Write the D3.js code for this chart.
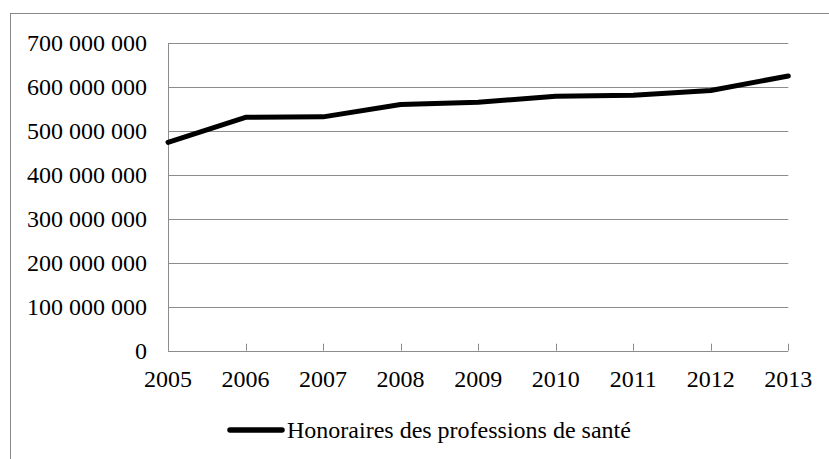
<!DOCTYPE html>
<html>
<head>
<meta charset="utf-8">
<script src="https://cdn.jsdelivr.net/npm/d3@7"></script>
<style>
  html, body { margin: 0; padding: 0; background: #fff; }
  text { font-family: "Liberation Serif", "Times New Roman", serif; fill: #000; }
</style>
</head>
<body>
<div id="chart"></div>
<script>
const years = [2005, 2006, 2007, 2008, 2009, 2010, 2011, 2012, 2013];
const values = [474e6, 531e6, 532e6, 560e6, 565e6, 579e6, 581e6, 592e6, 625e6];
const yTicks = [0, 100e6, 200e6, 300e6, 400e6, 500e6, 600e6, 700e6];
const seriesName = "Honoraires des professions de santé";

const width = 829;
const height = 459;
const fontSize = "24px";

const svg = d3
  .select("#chart")
  .append("svg")
  .attr("width", width)
  .attr("height", height);

// outer chart frame (cropped on right and bottom)
svg.append("rect")
  .attr("x", 10.5)
  .attr("y", 13.5)
  .attr("width", width)
  .attr("height", height)
  .attr("fill", "none")
  .attr("stroke", "#888")
  .attr("stroke-width", 1);

const x = d3.scalePoint()
  .domain(years)
  .range([168, 788.3]);

const y = d3.scaleLinear()
  .domain([0, 700e6])
  .range([350.7, 43]);

const fmt = v => d3.format(",")(v).replace(/,/g, " ");

// gridlines
svg.selectAll(".grid")
  .data(yTicks)
  .join("line")
  .attr("class", "grid")
  .attr("x1", x(2005))
  .attr("x2", x(2013))
  .attr("y1", d => Math.round(y(d)) + 0.5)
  .attr("y2", d => Math.round(y(d)) + 0.5)
  .attr("stroke", "#8c8c8c")
  .attr("stroke-width", 1);

// y axis line
svg.append("line")
  .attr("x1", x(2005) + 0.5)
  .attr("x2", x(2005) + 0.5)
  .attr("y1", y(700e6))
  .attr("y2", y(0))
  .attr("stroke", "#8c8c8c");

// x ticks pointing up
svg.selectAll(".xtick")
  .data(years)
  .join("line")
  .attr("class", "xtick")
  .attr("x1", d => Math.round(x(d)) + 0.5)
  .attr("x2", d => Math.round(x(d)) + 0.5)
  .attr("y1", y(0))
  .attr("y2", y(0) - 7)
  .attr("stroke", "#8c8c8c");

// y labels
svg.selectAll(".ylabel")
  .data(yTicks)
  .join("text")
  .attr("class", "ylabel")
  .attr("x", 147)
  .attr("y", d => y(d))
  .attr("dy", "0.34em")
  .attr("text-anchor", "end")
  .attr("font-size", fontSize)
  .text(d => fmt(d));

// x labels
svg.selectAll(".xlabel")
  .data(years)
  .join("text")
  .attr("class", "xlabel")
  .attr("x", d => x(d))
  .attr("y", 387)
  .attr("text-anchor", "middle")
  .attr("font-size", fontSize)
  .text(d => d);

// series line
const line = d3.line()
  .x((d, i) => x(years[i]))
  .y(d => y(d));

svg.append("path")
  .datum(values)
  .attr("d", line)
  .attr("fill", "none")
  .attr("stroke", "#000")
  .attr("stroke-width", 5)
  .attr("stroke-linejoin", "round")
  .attr("stroke-linecap", "round");

// legend
svg.append("line")
  .attr("x1", 230)
  .attr("x2", 282)
  .attr("y1", 430)
  .attr("y2", 430)
  .attr("stroke", "#000")
  .attr("stroke-width", 5.5)
  .attr("stroke-linecap", "round");

svg.append("text")
  .attr("x", 287)
  .attr("y", 438)
  .attr("font-size", fontSize)
  .text(seriesName);
</script>
</body>
</html>
